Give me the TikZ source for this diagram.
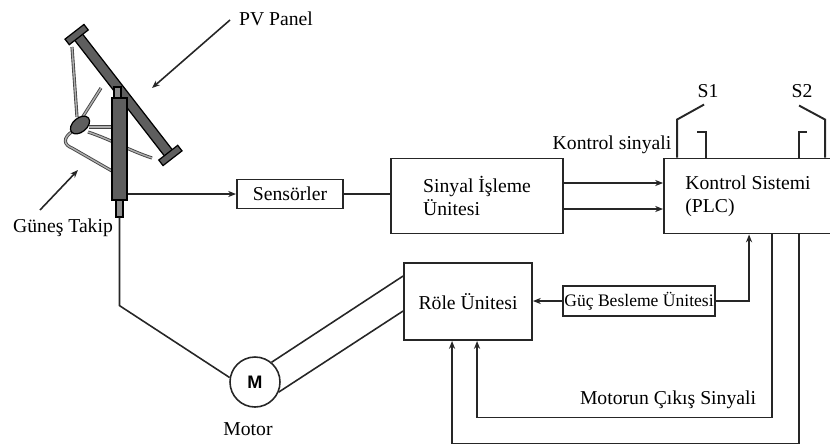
\documentclass[tikz,border=0pt]{standalone}
\usepackage{fontspec}
\setmainfont{Liberation Serif}
\newfontfamily\motorfont{Liberation Sans}
\usetikzlibrary{positioning,calc,arrows.meta}
\definecolor{ink}{HTML}{262626}
\definecolor{steel}{HTML}{5E5E5E}
\definecolor{steellight}{HTML}{8C8C8C}
\definecolor{frame}{HTML}{444444}
\definecolor{framefill}{HTML}{AFAFAF}

\begin{document}
\begin{tikzpicture}[x=0.02cm,y=-0.02cm,font=\fontsize{11.2}{13}\selectfont,
  box/.style={draw=ink,line width=1.1pt,align=left,inner sep=0pt},
  wire/.style={draw=ink,line width=1.1pt},
  tip/.style={-{Stealth[length=4.5pt,width=3.5pt]}},
  strut/.style={draw=frame,double=framefill,double distance=0.8pt,line width=0.5pt},
  metal/.style={draw=black,line width=0.7pt,fill=steel}]
  \useasboundingbox (0,0) rectangle (830,444);

  % tracker: panel bar with end caps
  \begin{scope}[shift={(123.5,95)},rotate=-52.2]
    \filldraw[metal] (-74,-5) rectangle (74,5);
    \filldraw[metal] (-80,-12) rectangle (-73,12);
    \filldraw[metal] (73,-12) rectangle (80,12);
  \end{scope}
  % frame struts and drive
  \draw[strut] (72,47) -- (77,117);
  \draw[strut] (82,118) -- (101,88);
  \draw[strut] (89,127) -- (113,127);
  \draw[strut] (88,132) .. controls (112,140) and (128,150) .. (152,158);
  \draw[strut] (73,131) .. controls (62,138) and (64,145) .. (72,148) -- (112,171);
  \filldraw[metal,rotate around={40:(80,125)}] (80,125) ellipse (11 and 7);
  % post
  \node[metal,minimum width=0.14cm,minimum height=0.26cm,inner sep=0pt,fill=steellight] (top) at (117.5,93.5) {};
  \node[metal,minimum width=0.3cm,minimum height=2.04cm,inner sep=0pt] (post) at (119.5,149) {};
  \node[metal,minimum width=0.14cm,minimum height=0.34cm,inner sep=0pt,fill=steellight] (stub) at (119.5,208.5) {};

  \node[anchor=base] (pv) at (276,25) {PV Panel};
  \node (takip) at (63,228) {Güneş Takip};
  \draw[ink,line width=0.9pt,tip] (230,20) -- (152,88);
  \draw[ink,line width=0.9pt,tip] (40,210) -- (78,170);

  % blocks
  \node[box,minimum width=2.12cm,minimum height=0.58cm] (sens) at (290,194) {Sensörler};
  \node[box,minimum width=3.44cm,minimum height=1.5cm] (sig) at (477,196) {Sinyal İşleme\\Ünitesi};
  \node[box,minimum width=3.36cm,minimum height=1.5cm] (plc) at (748,196) {Kontrol Sistemi\\(PLC)};
  \node[box,minimum width=2.56cm,minimum height=1.54cm] (role) at (468,301.5) {Röle Ünitesi};
  \node[box,minimum width=3.04cm,minimum height=0.6cm,font=\fontsize{10}{12}\selectfont] (gbu) at (639,301) {Güç Besleme Ünitesi};
  \node[draw=ink,line width=0.9pt,circle,minimum size=1cm,inner sep=0pt,font=\motorfont\bfseries\fontsize{10.3}{12}\selectfont] (motor) at (255,382) {M};
  \node (motorlbl) at (248,429) {Motor};

  \node (ks) at (612,145) {Kontrol sinyali};
  \node (s1) at (708,91) {S1};
  \node (s2) at (802,91) {S2};
  \node (mcs) at (668,400) {Motorun Çıkış Sinyali};

  % signal path
  \draw[wire,tip] (post.east |- sens.west) -- (sens.west);
  \draw[wire] (sens.east) -- (sens.east -| sig.west);
  \draw[wire,tip] ([yshift=7.4pt]sig.east) -- ([yshift=7.4pt]sig.east -| plc.west);
  \draw[wire,tip] ([yshift=-7.4pt]sig.east) -- ([yshift=-7.4pt]sig.east -| plc.west);

  % switches on top of the PLC
  \draw[wire] ($(plc.north west)+(14,0)$) -- ++(0,-38) -- ++(27,-15);
  \draw[wire] ($(plc.north west)+(43,0)$) -- ++(0,-26) -- ++(-9,0);
  \draw[wire] ($(plc.north west)+(136,0)$) -- ++(0,-26) -- ++(8,0);
  \draw[wire] ($(plc.north west)+(162,0)$) -- ++(0,-38) -- ++(-26,-14);

  % power and relay
  \draw[wire,tip] (gbu.west) -- (gbu.west -| role.east);
  \draw[wire,tip] (gbu.east) -| ($(plc.south west)+(86,0)$);
  \draw[wire,tip] ($(plc.south west)+(109,0)$) -- ++(0,183) -| ($(role.south west)+(74,0)$);
  \draw[wire,tip] ($(plc.south west)+(136,0)$) -- ++(0,209) -| ($(role.south west)+(49,0)$);

  % motor wiring
  \draw[wire,line width=0.9pt] (stub.south) -- ++(0,88) -- (motor.170);
  \draw[wire,line width=0.9pt] (motor.50) -- ($(role.north west)+(0,14)$);
  \draw[wire,line width=0.9pt] (motor.-23) -- ($(role.north west)+(0,49)$);
\end{tikzpicture}
\end{document}
